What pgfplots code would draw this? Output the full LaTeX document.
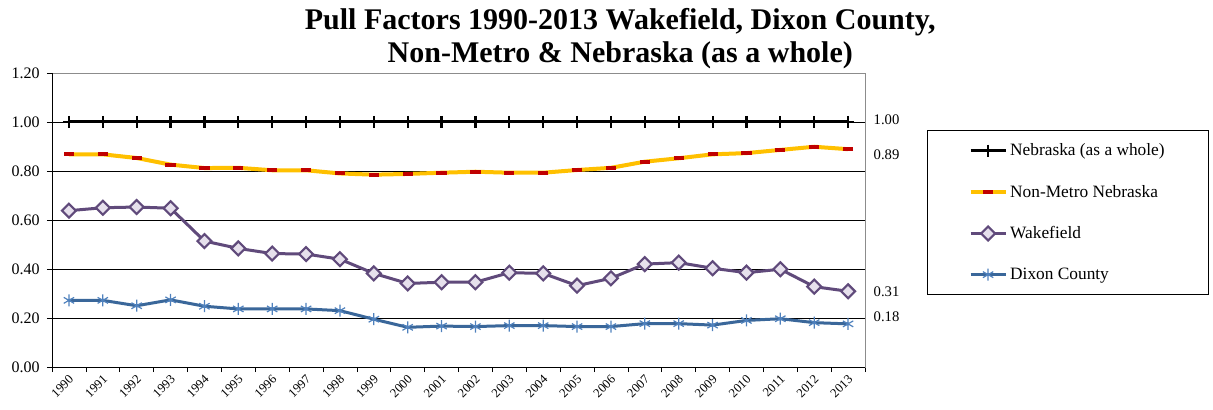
\documentclass[border=0pt]{standalone}
\usepackage{fontspec}
\setmainfont{Liberation Serif}
\usepackage{pgfplots}
\pgfplotsset{compat=1.18}
\definecolor{nonmetro}{HTML}{FFC000}
\definecolor{nmdash}{HTML}{C00000}
\definecolor{wake}{HTML}{604A7B}
\definecolor{wakefill}{HTML}{E6E0EC}
\definecolor{dixon}{HTML}{3A679A}
\definecolor{dixonmk}{HTML}{4F81BD}

\begin{document}
\begin{tikzpicture}
  \path[use as bounding box] (-39pt,-32.25pt) rectangle (870.75pt,275.25pt);
  \begin{axis}[
    scale only axis, width=609.75pt, height=220.5pt,
    xmin=-0.5, xmax=23.5, ymin=0, ymax=1.2, clip=false,
    xtick={0,...,23},
    xticklabels={1990,1991,1992,1993,1994,1995,1996,1997,1998,1999,2000,2001,2002,2003,2004,2005,2006,2007,2008,2009,2010,2011,2012,2013},
    major x tick style={draw=none},
    minor xtick={-0.5,0.5,...,23.5},
    ytick={0,0.2,...,1.2},
    xtick pos=bottom, ytick pos=left,
    tick align=outside, major tick length=3.75pt, minor tick length=3.75pt,
    tick style={black, thin},
    xticklabel style={rotate=45, anchor=east, font=\fontsize{9.5}{10}\selectfont, yshift=-4pt, xshift=2pt},
    yticklabel style={font=\fontsize{12}{13}\selectfont, xshift=-2pt},
    /pgf/number format/.cd, fixed, fixed zerofill, precision=2, assume math mode=true, /pgfplots/.cd,
    ymajorgrids, grid style={black, thin},
    axis line style={black!45},
    title={Pull Factors 1990-2013 Wakefield, Dixon County,\\Non-Metro \& Nebraska (as a whole)},
    title style={at={(0.699,1.09)}, anchor=center, align=center, font=\fontsize{22.5}{25}\selectfont\bfseries},
    legend style={at={(1.0763,0.806)}, anchor=north west, draw=black, font=\fontsize{13}{14}\selectfont,
      inner xsep=31pt, inner ysep=8pt, row sep=16.5pt},
    legend cell align=left,
    legend image code/.code={\draw[mark repeat=2,mark phase=2,#1] plot coordinates {(0cm,0cm) (0.46cm,0cm) (0.92cm,0cm)};},
  ]
    \addplot[black, line width=2.25pt, mark=+, mark size=4.5pt, mark options={line width=1.6pt}]
      coordinates {(0,1)(1,1)(2,1)(3,1)(4,1)(5,1)(6,1)(7,1)(8,1)(9,1)(10,1)(11,1)(12,1)(13,1)(14,1)(15,1)(16,1)(17,1)(18,1)(19,1)(20,1)(21,1)(22,1)(23,1)};
    \addplot[nonmetro, line width=3pt, mark=-, mark size=3.8pt, mark options={nmdash, line width=3pt}]
      coordinates {(0,0.868)(1,0.868)(2,0.853)(3,0.826)(4,0.812)(5,0.813)(6,0.803)(7,0.803)(8,0.790)(9,0.785)(10,0.788)(11,0.793)(12,0.797)(13,0.793)(14,0.793)(15,0.804)(16,0.813)(17,0.838)(18,0.852)(19,0.868)(20,0.873)(21,0.886)(22,0.899)(23,0.889)};
    \addplot[wake, line width=2.25pt, mark=square*, mark size=3.7pt, mark options={rotate=45, fill=wakefill, draw=wake, line width=1.6pt}]
      coordinates {(0,0.638)(1,0.650)(2,0.653)(3,0.648)(4,0.514)(5,0.484)(6,0.463)(7,0.461)(8,0.440)(9,0.382)(10,0.341)(11,0.346)(12,0.346)(13,0.385)(14,0.382)(15,0.332)(16,0.362)(17,0.420)(18,0.426)(19,0.403)(20,0.385)(21,0.399)(22,0.328)(23,0.309)};
    \addplot[dixon, line width=2.25pt, mark=asterisk, mark size=4.5pt, mark options={dixonmk, line width=0.9pt}]
      coordinates {(0,0.272)(1,0.272)(2,0.250)(3,0.274)(4,0.248)(5,0.237)(6,0.237)(7,0.237)(8,0.230)(9,0.195)(10,0.162)(11,0.167)(12,0.165)(13,0.169)(14,0.169)(15,0.165)(16,0.165)(17,0.177)(18,0.177)(19,0.171)(20,0.190)(21,0.197)(22,0.181)(23,0.176)};
    \legend{Nebraska (as a whole), Non-Metro Nebraska, Wakefield, Dixon County}
    \draw[black, thin] (rel axis cs:0,1) -- (rel axis cs:0,0) -- (rel axis cs:1,0);
    \begin{scope}[font=\fontsize{11}{12}\selectfont]
      \node[anchor=west, xshift=3pt] at (axis cs:23.5,1.008) {1.00};
      \node[anchor=west, xshift=3pt] at (axis cs:23.5,0.865) {0.89};
      \node[anchor=west, xshift=3pt] at (axis cs:23.5,0.306) {0.31};
      \node[anchor=west, xshift=3pt] at (axis cs:23.5,0.204) {0.18};
    \end{scope}
  \end{axis}
\end{tikzpicture}
\end{document}
